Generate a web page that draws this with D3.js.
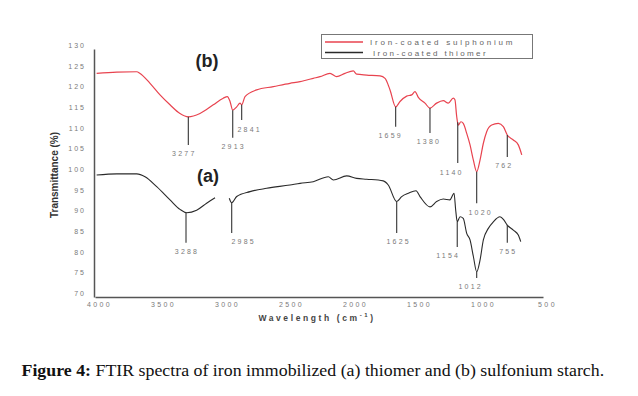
<!DOCTYPE html>
<html><head><meta charset="utf-8">
<script src="https://cdn.jsdelivr.net/npm/d3@7"></script>
<style>
html,body{margin:0;padding:0;background:#fff;}
svg{display:block;}
</style></head>
<body>
<svg id="c" width="638" height="396"></svg>
<script>
// ---- data ----
const wnB = [3987,3830,3674,3648,3570,3492,3414,3336,3271,3180,3076,2998,2966,2945,2924,2893,2867,2854,2828,2737,2607,2477,2398,2346,2295,2242,2164,2112,2047,1982,1956,1877,1773,1734,1695,1651,1617,1565,1526,1500,1474,1422,1383,1331,1279,1240,1201,1188,1174,1162,1141,1123,1096,1070,1044,1018,992,966,940,901,849,810,779,732,693,666];
const tB  = [124.1,124.4,124.5,124.1,121.7,118.9,116.5,114.4,113.6,114.4,116.5,118.1,118.5,117.3,115.2,116.0,116.9,116.5,118.5,120.1,120.9,121.7,122.1,122.5,122.9,123.3,124.1,123.3,124.1,124.7,123.9,123.7,123.5,122.9,120.1,116.0,117.3,118.6,118.9,119.7,118.3,116.9,115.7,116.9,117.5,116.9,118.1,117.7,113.6,111.6,112.4,112.0,109.6,106.8,103.1,100.3,103.1,107.2,110.0,111.6,112.0,111.2,109.2,108.0,106.8,104.4];
const wnA = [3987,3830,3674,3609,3518,3414,3336,3284,3206,3128,3062,3000,2951,2932,2893,2789,2659,2477,2398,2295,2177,2138,2034,1956,1877,1748,1709,1643,1604,1552,1492,1461,1383,1331,1279,1227,1195,1182,1170,1148,1123,1096,1070,1044,1018,992,966,927,888,836,805,779,732,693,674];
const tA  = [99.5,99.8,99.8,99.1,96.7,93.5,91.2,90.4,91.0,92.7,94.0,null,93.9,92.8,94.3,95.5,96.3,97.1,97.5,97.9,99.1,98.3,99.3,98.7,98.5,98.1,97.1,93.1,94.3,95.1,95.7,94.3,91.8,93.1,93.7,93.5,95.1,91.0,88.2,89.4,89.0,85.4,83.8,79.8,76.1,78.9,83.8,86.6,88.2,89.4,88.6,87.4,86.2,85.0,83.4];
// peak labels, and the wavenumber where each marker line sits in the figure
const peakLabelsB = ["3277","2913","2841","1659","1380","1140","1020","762"];
const peakWnB     = [3271,2924,2854,1651,1383,1166,1018,779];
const peakEndB    = [106.8,108.5,112.8,111.2,109.7,102.4,92.7,103.9];
const peakLabelsA = ["3288","2985","1625","1154","1012","755"];
const peakWnA     = [3289,2932,1643,1170,1018,779];
const peakEndA    = [83.1,85.5,85.5,82.1,74.6,83.1];
const xTicks = [4000,3500,3000,2500,2000,1500,1000,500];
const yTicks = [130,125,120,115,110,105,100,95,90,85,80,75,70];
const seriesNames = ["Iron-coated sulphonium","Iron-coated thiomer"];
const panelLabels = ["(b)","(a)"];

// ---- drawing ----
const svg = d3.select("#c");
const x = d3.scaleLinear().domain([4000,500]).range([95,543]);
const y = d3.scaleLinear().domain([70,130]).range([297,49]);
const redC = "#e8434f", blkC = "#2a2a2a", axC = "#555", lblC = "#7a7a7a";
const FF = "Arial, Liberation Sans, sans-serif";

// axes
const gx = svg.append("g").attr("transform","translate(0,"+y(70)+")")
  .call(d3.axisBottom(x).tickValues(xTicks).tickSize(0).tickFormat(d3.format("d")));
gx.select(".domain").attr("stroke",axC).attr("stroke-width",1.5);
gx.selectAll("text").attr("fill",lblC).attr("font-family",FF)
  .attr("font-size",7).attr("letter-spacing","2.4px").attr("dy","0.95em").attr("dx","4");
const gy = svg.append("g").attr("transform","translate("+(x(4000)-1)+",0)")
  .call(d3.axisLeft(y).tickValues(yTicks).tickSize(0).tickFormat(d3.format("d")));
gy.select(".domain").attr("stroke",axC).attr("stroke-width",1.5);
gy.selectAll("text").attr("fill",lblC).attr("font-family",FF)
  .attr("font-size",7).attr("letter-spacing","2px").attr("dx","-5").attr("dy","-0.2em");

// axis titles
svg.append("text").attr("transform","translate(58,175) rotate(-90)").attr("text-anchor","middle")
  .attr("font-family",FF).attr("font-weight","bold").attr("font-size",10)
  .attr("fill","#333").text("Transmittance (%)");
svg.append("text").attr("x",317).attr("y",321).attr("text-anchor","middle")
  .attr("font-family",FF).attr("font-weight","bold").attr("font-size",8.5)
  .attr("letter-spacing","2.6px").attr("fill","#444")
  .html('Wavelength (cm<tspan dy="-4" font-size="6">-1</tspan><tspan dy="4">)</tspan>');

// lines
const ptsB = wnB.map((w,i)=>({w,t:tB[i]}));
const ptsA = wnA.map((w,i)=>({w,t:tA[i]}));
const line = d3.line().defined(d=>d.t!=null).x(d=>x(d.w)).y(d=>y(d.t)).curve(d3.curveMonotoneX);
svg.append("path").datum(ptsB).attr("d",line).attr("fill","none").attr("stroke",redC).attr("stroke-width",1.2);
svg.append("path").datum(ptsA).attr("d",line).attr("fill","none").attr("stroke",blkC).attr("stroke-width",1.1);

// peak annotations
function interp(ws,ts,w){
  for(let i=0;i<ws.length-1;i++){
    const a=ws[i], b=ws[i+1];
    if(ts[i]==null||ts[i+1]==null) continue;
    if(w<=a && w>=b){ const f=(a-w)/(a-b); return ts[i]+f*(ts[i+1]-ts[i]); }
  }
  return ts[ts.length-1];
}
// horizontal nudges of label text relative to marker line (layout only)
const nudgeB = [-5,0,7,-6,-2,-7,3,-4];
const nudgeA = [0,11,1,-10,-7,0];
function annot(labels,wns,ends,ws,ts,nudge){
  wns.forEach((p,i)=>{
    const top=interp(ws,ts,p);
    svg.append("line").attr("x1",x(p)).attr("x2",x(p)).attr("y1",y(top)).attr("y2",y(ends[i]))
      .attr("stroke","#333").attr("stroke-width",1.1);
    svg.append("text").attr("x",x(p)+1+nudge[i]).attr("y",y(ends[i])+11.5).attr("text-anchor","middle")
      .attr("font-family",FF).attr("font-size",7)
      .attr("letter-spacing","2.2px").attr("fill",lblC).text(labels[i]);
  });
}
annot(peakLabelsB,peakWnB,peakEndB,wnB,tB,nudgeB);
annot(peakLabelsA,peakWnA,peakEndA,wnA,tA,nudgeA);

// panel labels
svg.append("text").attr("x",207).attr("y",67).attr("text-anchor","middle")
  .attr("font-family",FF).attr("font-weight","bold").attr("font-size",18)
  .attr("fill","#222").text(panelLabels[0]);
svg.append("text").attr("x",208).attr("y",182).attr("text-anchor","middle")
  .attr("font-family",FF).attr("font-weight","bold").attr("font-size",18)
  .attr("fill","#222").text(panelLabels[1]);

// legend
const lg = svg.append("g");
lg.append("rect").attr("x",321.5).attr("y",34.5).attr("width",211).attr("height",24)
  .attr("fill","#fff").attr("stroke","#777").attr("stroke-width",1);
[redC,blkC].forEach((c,i)=>{
  const yy = 42 + i*10.5;
  lg.append("line").attr("x1",325).attr("x2",363).attr("y1",yy).attr("y2",yy).attr("stroke",c).attr("stroke-width",1.3);
  lg.append("text").attr("x",i?373:370).attr("y",yy+3).attr("font-family",FF)
    .attr("font-size",8).attr("letter-spacing",i?"2.4px":"2.8px").attr("fill","#666").text(seriesNames[i]);
});

// caption
const cap = svg.append("text").attr("font-family","Liberation Serif, Times New Roman, serif")
  .attr("font-size",16).attr("fill","#111")
  .html('<tspan font-weight="bold">Figure 4:</tspan> FTIR spectra of iron immobilized (a) thiomer and (b) sulfonium starch.');
const cw = cap.node().getComputedTextLength();
const sx = 583 / cw;
cap.attr("transform","translate(21.5,376) scale("+sx+",1)");
</script>
</body></html>
